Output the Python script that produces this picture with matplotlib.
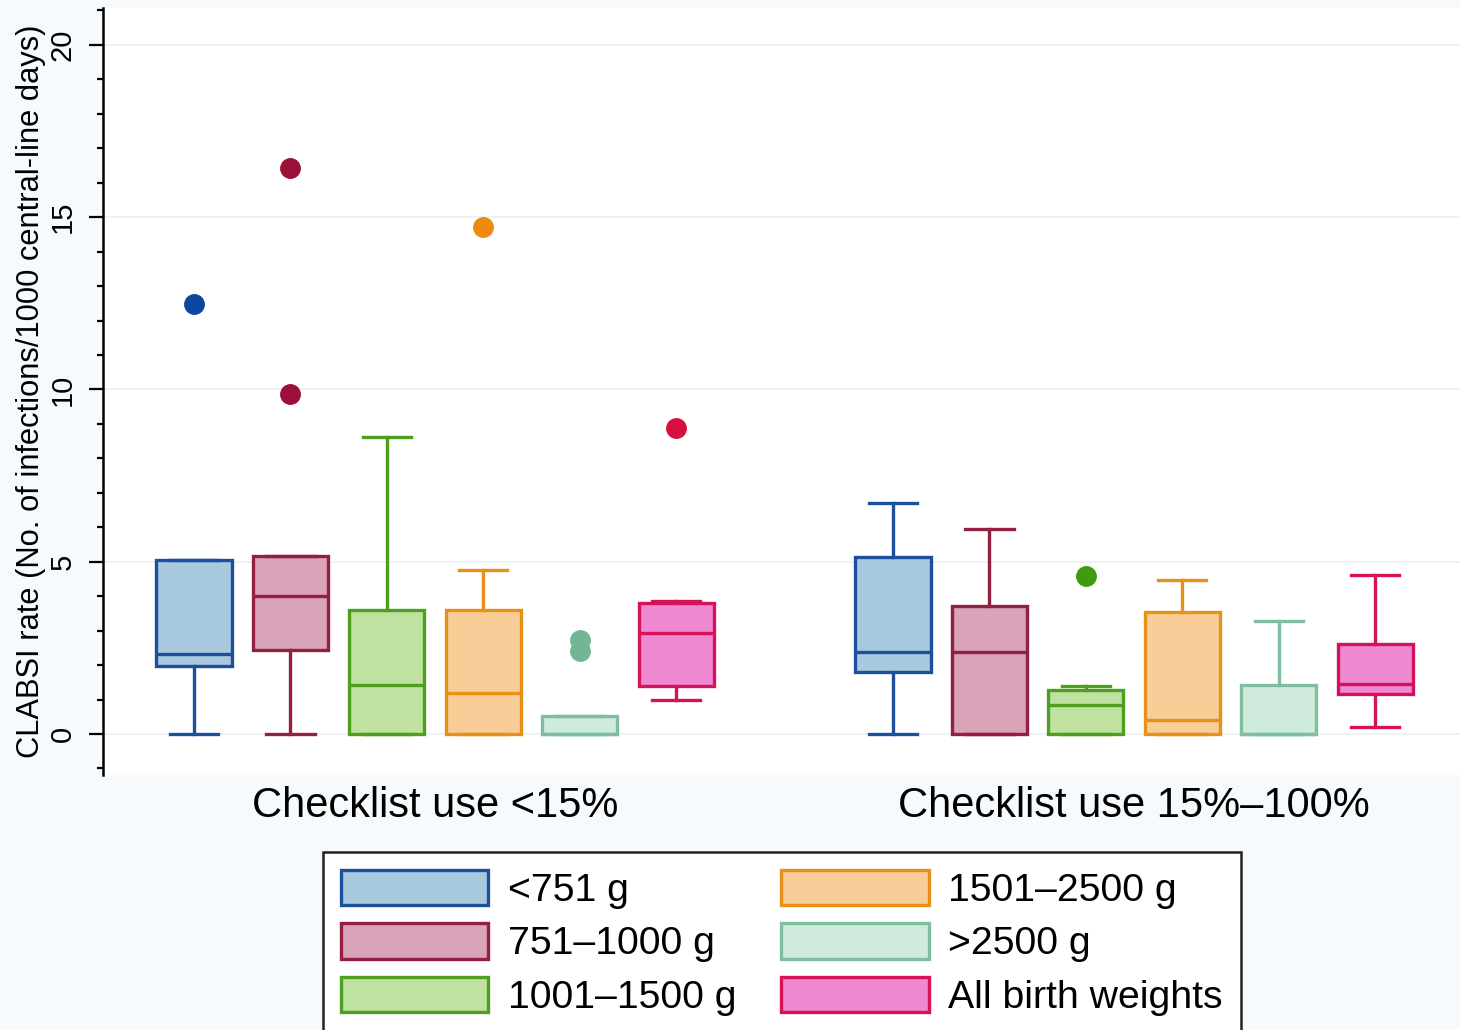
import matplotlib
matplotlib.use("Agg")
import matplotlib.pyplot as plt
from matplotlib.patches import Patch
from matplotlib.ticker import MultipleLocator

plt.rcParams["font.family"] = ["Liberation Sans", "DejaVu Sans"]

# birth-weight strata and the two checklist-use groups
strata = ["<751 g", "751\u20131000 g", "1001\u20131500 g",
          "1501\u20132500 g", ">2500 g", "All birth weights"]
groups = ["Checklist use <15%", "Checklist use 15%\u2013100%"]

# box summaries per stratum, one value per group
q1 = [[1.98, 2.44, 0.0, 0.0, 0.0, 1.40],
      [1.80, 0.0, 0.0, 0.0, 0.0, 1.16]]
med = [[2.33, 4.01, 1.42, 1.19, 0.0, 2.94],
       [2.38, 2.38, 0.84, 0.41, 0.0, 1.45]]
q3 = [[5.05, 5.17, 3.60, 3.60, 0.52, 3.81],
      [5.15, 3.72, 1.28, 3.55, 1.42, 2.62]]
whislo = [[0.0, 0.0, 0.0, 0.0, 0.0, 0.99],
          [0.0, 0.0, 0.0, 0.0, 0.0, 0.20]]
whishi = [[5.05, 5.17, 8.63, 4.77, 0.52, 3.87],
          [6.69, 5.96, 1.40, 4.48, 3.28, 4.62]]
outliers = [[[12.47], [16.42, 9.88], [], [14.72], [2.73, 2.41], [8.87]],
            [[], [], [4.59], [], [], []]]

edge_colors = ["#1c4f9c", "#93203f", "#4e9f1e", "#e8911a", "#7fbea0", "#d5125a"]
fill_colors = ["#a9c9de", "#d9a3ba", "#bfe2a1", "#f8cd97", "#cfebdb", "#ee89d2"]
dot_colors = ["#0b47a0", "#9a1038", "#3f9a10", "#eb8a0c", "#72b597", "#d5103e"]

group_offsets = [1.0, 8.25]

fig = plt.figure(figsize=(14.6, 10.3), dpi=100, facecolor="#f6fafc")
ax = fig.add_axes([103 / 1460, 1 - 775 / 1030, 1 - 103 / 1460, 767 / 1030])
ax.set_facecolor("white")

for g in range(len(groups)):
    for i in range(len(strata)):
        stats = [{
            "q1": q1[g][i], "med": med[g][i], "q3": q3[g][i],
            "whislo": whislo[g][i], "whishi": whishi[g][i],
            "fliers": outliers[g][i],
        }]
        ec = edge_colors[i]
        ax.bxp(
            stats, positions=[group_offsets[g] + i], widths=0.78,
            capwidths=0.5, patch_artist=True, manage_ticks=False,
            boxprops=dict(facecolor=fill_colors[i], edgecolor=ec, linewidth=2.4),
            medianprops=dict(color=ec, linewidth=2.4),
            whiskerprops=dict(color=ec, linewidth=2.4),
            capprops=dict(color=ec, linewidth=2.4),
            flierprops=dict(marker="o", markersize=14, markerfacecolor=dot_colors[i],
                            markeredgecolor=dot_colors[i]),
        )

ax.set_xlim(0.056, 14.13)
ax.set_ylim(-1.19, 21.07)
ax.yaxis.set_major_locator(MultipleLocator(5))
ax.yaxis.set_minor_locator(MultipleLocator(1))
ax.grid(axis="y", which="major", color="#e9f2f3", linewidth=1.3, zorder=0)
ax.set_axisbelow(True)
ax.set_xticks([])
for side in ["top", "right", "bottom"]:
    ax.spines[side].set_visible(False)
ax.spines["left"].set_linewidth(1.8)
ax.tick_params(axis="y", which="major", length=10, width=1.6, labelsize=21, pad=9)
ax.tick_params(axis="y", which="minor", length=4, width=1.6)
plt.setp(ax.get_yticklabels(), rotation=90, va="center")

fig.text(31 / 1460, 1 - 391 / 1030,
         "CLABSI rate (No. of infections/1000 central-line days)",
         rotation=90, ha="center", va="center", fontsize=22.2)

for g, name in enumerate(groups):
    xc = group_offsets[g] + (len(strata) - 1) / 2
    ax.text(xc, -2.1, name, ha="center", va="center", fontsize=30, clip_on=False)

handles = [Patch(facecolor=fill_colors[i], edgecolor=edge_colors[i], linewidth=2.4)
           for i in range(len(strata))]
leg = fig.legend(
    handles, strata, ncol=2, loc="upper left",
    bbox_to_anchor=(323 / 1460, 1 - 852 / 1030), borderaxespad=0, fontsize=28.3,
    handlelength=3.75, handleheight=1.02, handletextpad=0.5,
    columnspacing=1.15, labelspacing=0.36, borderpad=0.45,
    frameon=True, fancybox=False, edgecolor="#222222", framealpha=1.0,
)
leg.get_frame().set_linewidth(1.8)

fig.savefig("out.png", dpi=100, facecolor=fig.get_facecolor())
